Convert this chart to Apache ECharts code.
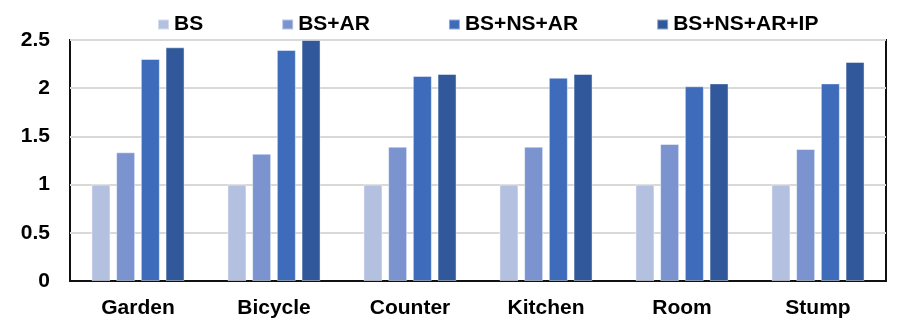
<!DOCTYPE html>
<html>
<head>
<meta charset="utf-8">
<script src="https://cdn.jsdelivr.net/npm/echarts@6/dist/echarts.min.js"></script>
<style>html,body{margin:0;padding:0;background:#fff;}#chart{width:915px;height:327px;}</style>
</head>
<body>
<div id="chart"></div>
<script>
const categories = ['Garden', 'Bicycle', 'Counter', 'Kitchen', 'Room', 'Stump'];
const seriesNames = ['BS', 'BS+AR', 'BS+NS+AR', 'BS+NS+AR+IP'];
const bs = [1, 1, 1, 1, 1, 1];
const bsAr = [1.335, 1.32, 1.393, 1.393, 1.421, 1.369];
const bsNsAr = [2.303, 2.396, 2.127, 2.109, 2.02, 2.05];
const bsNsArIp = [2.424, 2.5, 2.147, 2.147, 2.05, 2.272];
const yTicks = [0, 0.5, 1, 1.5, 2, 2.5];
const colors = ['#b4c0e0', '#7b93cf', '#3f6bbb', '#30589a'];

const values = [bs, bsAr, bsNsAr, bsNsArIp];
const font = '"Liberation Sans", Arial, sans-serif';
const chart = echarts.init(document.getElementById('chart'));
chart.setOption({
  animation: false,
  backgroundColor: '#fff',
  legend: {
    data: seriesNames,
    left: 152,
    top: 9,
    itemWidth: 11,
    itemHeight: 10,
    itemGap: 78,
    icon: 'rect',
    textStyle: { fontFamily: font, fontWeight: 'bold', fontSize: 21, color: '#000' }
  },
  grid: {
    left: 70, right: 29, top: 40, bottom: 46,
    show: true, borderColor: '#111', borderWidth: 2, backgroundColor: 'transparent'
  },
  xAxis: {
    type: 'category',
    data: categories,
    axisTick: { show: false },
    axisLine: { show: true, lineStyle: { color: '#111', width: 2 } },
    axisLabel: { margin: 17, fontFamily: font, fontWeight: 'bold', fontSize: 21, color: '#000' }
  },
  yAxis: {
    type: 'value',
    min: yTicks[0],
    max: yTicks[yTicks.length - 1],
    interval: 0.5,
    axisLine: { show: false },
    axisTick: { show: false },
    splitLine: { show: true, lineStyle: { color: '#d9d9d9', width: 2 } },
    axisLabel: { margin: 20, fontFamily: font, fontWeight: 'bold', fontSize: 21, color: '#000' }
  },
  series: seriesNames.map((name, i) => ({
    name: name,
    type: 'bar',
    data: values[i],
    barWidth: 19,
    barGap: '30%',
    itemStyle: { color: colors[i], borderColor: 'rgba(255,255,255,0.45)', borderWidth: 1 }
  }))
});
</script>
</body>
</html>
